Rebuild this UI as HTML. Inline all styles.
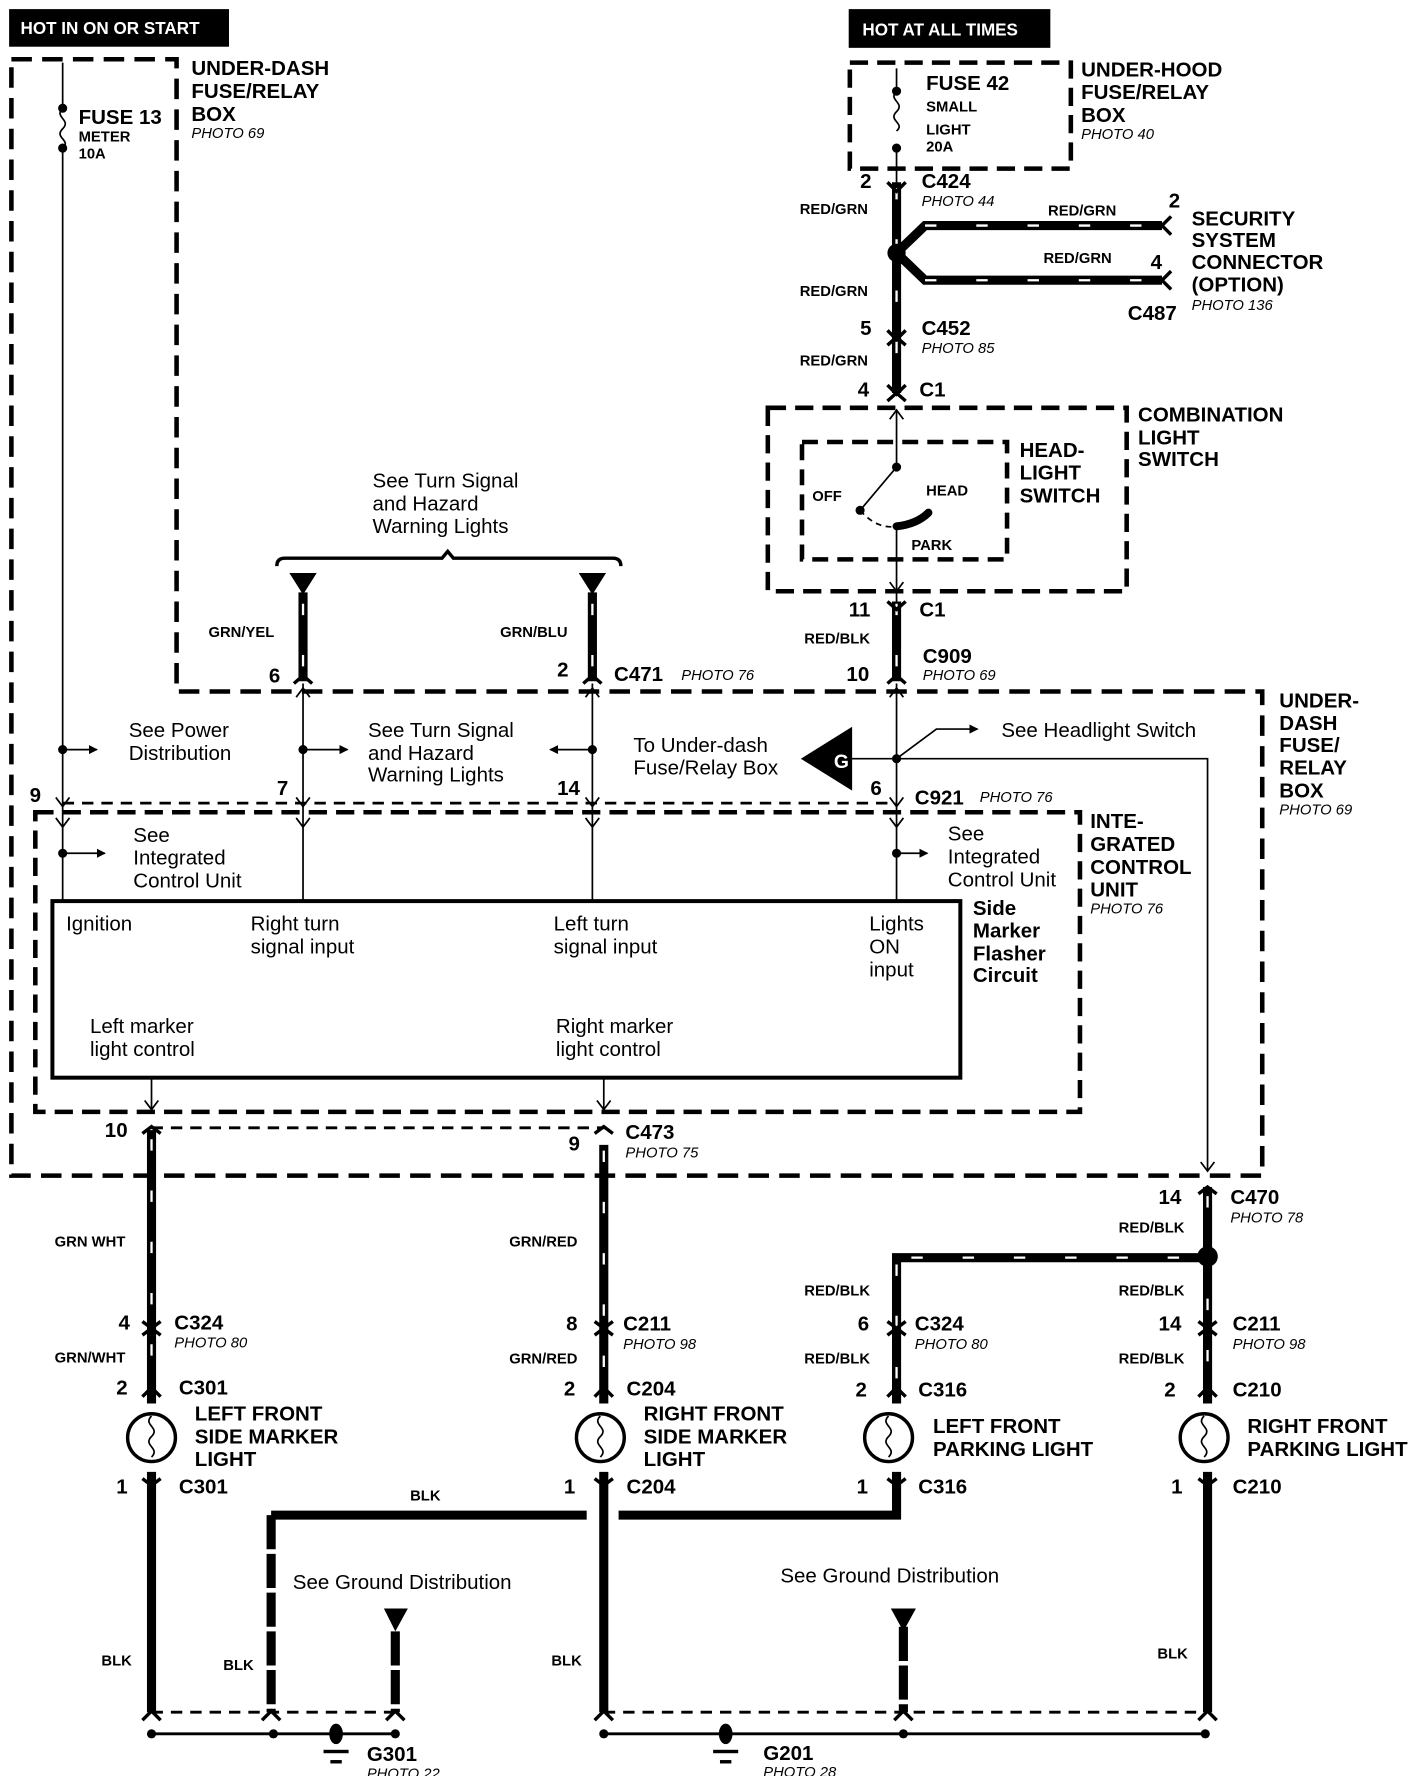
<!DOCTYPE html>
<html><head><meta charset="utf-8"><style>
html,body{margin:0;padding:0;background:#fff}
svg{display:block}
text{font-family:"Liberation Sans",sans-serif;fill:#000}
.b{font-weight:bold;font-size:18px}
.s{font-weight:bold;font-size:13px}
.p{font-style:italic;font-size:13px}
.n{font-size:18px}
.w{fill:#fff;font-weight:bold;font-size:15px}
</style></head><body>
<svg width="1424" height="1776" viewBox="0 0 1250 1559" xmlns="http://www.w3.org/2000/svg">
<defs>
<marker id="ar" markerWidth="8" markerHeight="8" refX="7" refY="4" orient="auto" markerUnits="userSpaceOnUse"><path d="M0,0 L8,4 L0,8 z"/></marker>
</defs>
<g fill="none" stroke="#000">
<!-- big under-dash box -->
<path d="M10,52 H155 V607 H1108 V1032 H10 Z" stroke-width="4" stroke-dasharray="18 9"/>
<!-- under-hood box -->
<rect x="746" y="55" width="194" height="93" stroke-width="4" stroke-dasharray="16 8"/>
<!-- combination switch -->
<rect x="674" y="358" width="315" height="161" stroke-width="4" stroke-dasharray="16 8"/>
<rect x="704" y="388" width="180" height="103" stroke-width="4" stroke-dasharray="14 8"/>
<!-- ICU box -->
<rect x="31" y="713" width="917" height="263" stroke-width="4" stroke-dasharray="16 8"/>
<rect x="46" y="791" width="797" height="155" stroke-width="3.5"/>
<!-- thin dashed connector lines -->
<path d="M55,705 H787" stroke-width="2.5" stroke-dasharray="10 7"/>
<path d="M133,990 H530" stroke-width="2.5" stroke-dasharray="10 7"/>
<path d="M133,1503 H347 M530,1503 H1060" stroke-width="2.5" stroke-dasharray="10 7"/>
<!-- thin wires -->
<path d="M55,55 V95 M55,130 V790" stroke-width="1.5"/>
<path d="M55,95 c-8,8 8,10 0,18 c-8,8 8,10 0,17" stroke-width="1.5"/>
<path d="M266,600 V790 M520,600 V790 M787,600 V790 M787,148 V168" stroke-width="1.5"/>
<path d="M787,60 V80 M787,130 V150" stroke-width="1.5"/>
<path d="M787,80 c-8,8 8,10 0,18 c-8,8 8,10 0,17" stroke-width="1.5"/>
<path d="M787,360 V410 L755,448 M787,462 V528" stroke-width="1.5"/>
<path d="M755,448 Q770,465 787,462" stroke-width="1.5" stroke-dasharray="5 4"/>
<path d="M787,462 Q805,460 815,450" stroke-width="7" stroke-linecap="round"/>
<path d="M743,666 H1060 V1028" stroke-width="1.5"/>
<path d="M787,666 L822,640 H858" stroke-width="1.5" marker-end="url(#ar)"/>
<path d="M133,946 V975 M530,946 V975" stroke-width="1.5"/>
<path d="M55,658 H85" stroke-width="1.5" marker-end="url(#ar)"/>
<path d="M266,658 H305" stroke-width="1.5" marker-end="url(#ar)"/>
<path d="M520,658 H483" stroke-width="1.5" marker-end="url(#ar)"/>
<path d="M55,749 H92" stroke-width="1.5" marker-end="url(#ar)"/>
<path d="M787,749 H814" stroke-width="1.5" marker-end="url(#ar)"/>
<!-- bracket -->
<path d="M243,497 Q243,490 250,490 H388 L393,484 L398,490 H538 Q545,490 545,497" stroke-width="3"/>
<!-- thick wires -->
<g stroke-width="8">
<path d="M266,520 V598 M520,520 V598"/>
<path d="M787,160 V345 M787,222 L812,198 H1020 M787,222 L812,246 H1020"/>
<path d="M787,528 V598"/>
<path d="M133,992 V1232 M133,1292 V1503"/>
<path d="M530,1005 V1232 M530,1292 V1503"/>
<path d="M1060,1042 V1232 M1060,1292 V1503"/>
<path d="M787,1104 H1060 M787,1100 V1232"/>
<path d="M787,1292 V1330 H543 M515,1330 H238"/>
</g>
<path d="M238,1330 V1503 M347,1432 V1503 M793,1428 V1503" stroke-width="8" stroke-dasharray="30 4"/>
<g stroke="#fff" stroke-width="2" stroke-dasharray="10 35">
<path d="M266,530 V598 M520,530 V598 M787,165 V345 M812,198 H1020 M812,246 H1020 M787,530 V598"/>
<path d="M133,1000 V1220 M530,1010 V1220 M1060,1050 V1220 M800,1104 H1050 M787,1110 V1220"/>
</g>
<!-- lamps -->
<g stroke-width="3">
<circle cx="133" cy="1262" r="21"/><circle cx="527" cy="1262" r="21"/><circle cx="780" cy="1262" r="21"/><circle cx="1057" cy="1262" r="21"/>
</g>
<g stroke-width="1.5">
<path d="M133,1243 c-8,8 8,10 0,18 c-8,8 8,10 0,18 M527,1243 c-8,8 8,10 0,18 c-8,8 8,10 0,18 M780,1243 c-8,8 8,10 0,18 c-8,8 8,10 0,18 M1057,1243 c-8,8 8,10 0,18 c-8,8 8,10 0,18"/>
</g>
<!-- ground bus -->
<path d="M133,1522 H347 M530,1522 H1058" stroke-width="2.5"/>
<!-- connector ticks -->
<g stroke-width="3">
<path d="M779,160 L787,168 L795,160 M779,338 L787,346 L795,338 M779,352 L787,345 L795,352"/>
<path d="M779,290 L787,298 L795,290 M779,303 L787,296 L795,303"/>
<path d="M1028,190 L1020,198 L1028,206 M1028,238 L1020,246 L1028,254"/>
<path d="M258,600 L266,593 L274,600 M512,600 L520,593 L528,600 M779,600 L787,593 L795,600 M779,528 L787,535 L795,528"/>
<path d="M125,995 L133,989 L141,995 M522,995 L530,989 L538,995 M1052,1048 L1060,1042 L1068,1048"/>
<path d="M125,1160 L133,1166 L141,1160 M125,1172 L133,1166 L141,1172 M522,1160 L530,1166 L538,1160 M522,1172 L530,1166 L538,1172 M779,1160 L787,1166 L795,1160 M779,1172 L787,1166 L795,1172 M1052,1160 L1060,1166 L1068,1160 M1052,1172 L1060,1166 L1068,1172"/>
<path d="M125,1226 L133,1218 L141,1226 M522,1226 L530,1218 L538,1226 M779,1226 L787,1218 L795,1226 M1052,1226 L1060,1218 L1068,1226"/>
<path d="M125,1298 L133,1304 L141,1298 M522,1298 L530,1304 L538,1298 M779,1298 L787,1304 L795,1298 M1052,1298 L1060,1304 L1068,1298"/>
<path d="M125,1510 L133,1502 L141,1510 M230,1510 L238,1502 L246,1510 M339,1510 L347,1502 L355,1510 M522,1510 L530,1502 L538,1510 M785,1510 L793,1502 L801,1510 M1052,1510 L1060,1502 L1068,1510"/>
</g>
<g stroke-width="1.5">
<path d="M49,718 L55,726 L61,718 M260,718 L266,726 L272,718 M514,718 L520,726 L526,718 M781,718 L787,726 L793,718 M49,700 L55,708 L61,700 M260,700 L266,708 L272,700 M514,700 L520,708 L526,700 M781,700 L787,708 L793,700 M127,966 L133,974 L139,966 M524,966 L530,974 L536,966 M1054,1020 L1060,1028 L1066,1020 M260,612 L266,604 L272,612 M514,612 L520,604 L526,612 M781,612 L787,604 L793,612 M781,368 L787,360 L793,368 M781,511 L787,519 L793,511"/>
</g>
</g>
<!-- filled shapes -->
<g>
<path d="M254,503 H278 L266,522 Z M508,503 H532 L520,522 Z M337,1412 H358 L347,1432 Z M782,1412 H804 L793,1432 Z"/>
<path d="M703,666 L748,638 V694 Z"/>
<circle cx="787" cy="222" r="8"/><circle cx="1060" cy="1103" r="9"/>
<circle cx="55" cy="95" r="4"/><circle cx="55" cy="130" r="4"/><circle cx="787" cy="80" r="4"/><circle cx="787" cy="130" r="4"/>
<circle cx="787" cy="410" r="4"/><circle cx="755" cy="448" r="4"/>
<circle cx="55" cy="658" r="4"/><circle cx="266" cy="658" r="4"/><circle cx="520" cy="658" r="4"/><circle cx="787" cy="666" r="4"/><circle cx="55" cy="749" r="4"/><circle cx="787" cy="749" r="4"/>
<circle cx="133" cy="1522" r="4"/><circle cx="240" cy="1522" r="4"/><circle cx="347" cy="1522" r="4"/><circle cx="530" cy="1522" r="4"/><circle cx="900" cy="1522" r="0"/><circle cx="793" cy="1522" r="4"/><circle cx="1058" cy="1522" r="4"/>
<ellipse cx="295" cy="1522" rx="6" ry="9"/><ellipse cx="637" cy="1522" rx="6" ry="9"/>
<rect x="284" y="1536" width="22" height="3"/><rect x="290" y="1545" width="10" height="3"/>
<rect x="626" y="1536" width="22" height="3"/><rect x="632" y="1545" width="10" height="3"/>
<rect x="8" y="8" width="193" height="33"/><rect x="745" y="8" width="177" height="34"/>
</g>
<text x="732" y="674" class="w" style="font-size:17px">G</text>
<!-- text -->
<text x="18" y="30" class="w">HOT IN ON OR START</text>
<text x="757" y="31" class="w">HOT AT ALL TIMES</text>
<text x="168" y="66" class="b">UNDER-DASH</text><text x="168" y="86" class="b">FUSE/RELAY</text><text x="168" y="106" class="b">BOX</text><text x="168" y="121" class="p">PHOTO 69</text>
<text x="69" y="109" class="b">FUSE 13</text><text x="69" y="124" class="s">METER</text><text x="69" y="139" class="s">10A</text>
<text x="813" y="79" class="b">FUSE 42</text><text x="813" y="98" class="s">SMALL</text><text x="813" y="118" class="s">LIGHT</text><text x="813" y="133" class="s">20A</text>
<text x="949" y="67" class="b">UNDER-HOOD</text><text x="949" y="87" class="b">FUSE/RELAY</text><text x="949" y="107" class="b">BOX</text><text x="949" y="122" class="p">PHOTO 40</text>
<text x="755" y="165" class="b">2</text><text x="809" y="165" class="b">C424</text><text x="809" y="181" class="p">PHOTO 44</text>
<text x="702" y="188" class="s">RED/GRN</text><text x="702" y="260" class="s">RED/GRN</text><text x="702" y="321" class="s">RED/GRN</text>
<text x="920" y="189" class="s">RED/GRN</text><text x="916" y="231" class="s">RED/GRN</text>
<text x="1026" y="182" class="b">2</text><text x="1010" y="236" class="b">4</text>
<text x="1046" y="198" class="b">SECURITY</text><text x="1046" y="217" class="b">SYSTEM</text><text x="1046" y="236" class="b">CONNECTOR</text><text x="1046" y="256" class="b">(OPTION)</text><text x="1046" y="272" class="p">PHOTO 136</text>
<text x="990" y="281" class="b">C487</text>
<text x="755" y="294" class="b">5</text><text x="809" y="294" class="b">C452</text><text x="809" y="310" class="p">PHOTO 85</text>
<text x="753" y="348" class="b">4</text><text x="807" y="348" class="b">C1</text>
<text x="999" y="370" class="b">COMBINATION</text><text x="999" y="390" class="b">LIGHT</text><text x="999" y="409" class="b">SWITCH</text>
<text x="895" y="401" class="b">HEAD-</text><text x="895" y="421" class="b">LIGHT</text><text x="895" y="441" class="b">SWITCH</text>
<text x="713" y="440" class="s">OFF</text><text x="813" y="435" class="s">HEAD</text><text x="800" y="483" class="s">PARK</text>
<text x="745" y="541" class="b">11</text><text x="807" y="541" class="b">C1</text>
<text x="706" y="565" class="s">RED/BLK</text>
<text x="810" y="582" class="b">C909</text><text x="810" y="597" class="p">PHOTO 69</text>
<text x="743" y="598" class="b">10</text>
<text x="327" y="428" class="n">See Turn Signal</text><text x="327" y="448" class="n">and Hazard</text><text x="327" y="468" class="n">Warning Lights</text>
<text x="183" y="559" class="s">GRN/YEL</text><text x="439" y="559" class="s">GRN/BLU</text>
<text x="236" y="599" class="b">6</text><text x="489" y="594" class="b">2</text><text x="539" y="598" class="b">C471</text><text x="598" y="597" class="p">PHOTO 76</text>
<text x="1123" y="621" class="b">UNDER-</text><text x="1123" y="641" class="b">DASH</text><text x="1123" y="660" class="b">FUSE/</text><text x="1123" y="680" class="b">RELAY</text><text x="1123" y="700" class="b">BOX</text><text x="1123" y="715" class="p">PHOTO 69</text>
<text x="113" y="647" class="n">See Power</text><text x="113" y="667" class="n">Distribution</text>
<text x="323" y="647" class="n">See Turn Signal</text><text x="323" y="667" class="n">and Hazard</text><text x="323" y="686" class="n">Warning Lights</text>
<text x="556" y="660" class="n">To Under-dash</text><text x="556" y="680" class="n">Fuse/Relay Box</text>
<text x="879" y="647" class="n">See Headlight Switch</text>
<text x="26" y="704" class="b">9</text><text x="243" y="698" class="b">7</text><text x="489" y="698" class="b">14</text><text x="764" y="698" class="b">6</text>
<text x="803" y="706" class="b">C921</text><text x="860" y="704" class="p">PHOTO 76</text>
<text x="957" y="727" class="b">INTE-</text><text x="957" y="747" class="b">GRATED</text><text x="957" y="767" class="b">CONTROL</text><text x="957" y="787" class="b">UNIT</text><text x="957" y="802" class="p">PHOTO 76</text>
<text x="117" y="739" class="n">See</text><text x="117" y="759" class="n">Integrated</text><text x="117" y="779" class="n">Control Unit</text>
<text x="832" y="738" class="n">See</text><text x="832" y="758" class="n">Integrated</text><text x="832" y="778" class="n">Control Unit</text>
<text x="854" y="803" class="b">Side</text><text x="854" y="823" class="b">Marker</text><text x="854" y="843" class="b">Flasher</text><text x="854" y="862" class="b">Circuit</text>
<text x="58" y="817" class="n">Ignition</text>
<text x="220" y="817" class="n">Right turn</text><text x="220" y="837" class="n">signal input</text>
<text x="486" y="817" class="n">Left  turn</text><text x="486" y="837" class="n">signal input</text>
<text x="763" y="817" class="n">Lights</text><text x="763" y="837" class="n">ON</text><text x="763" y="857" class="n">input</text>
<text x="79" y="907" class="n">Left marker</text><text x="79" y="927" class="n">light control</text>
<text x="488" y="907" class="n">Right marker</text><text x="488" y="927" class="n">light control</text>
<text x="92" y="998" class="b">10</text><text x="499" y="1010" class="b">9</text><text x="549" y="1000" class="b">C473</text><text x="549" y="1016" class="p">PHOTO 75</text>
<text x="1017" y="1057" class="b">14</text><text x="1080" y="1057" class="b">C470</text><text x="1080" y="1073" class="p">PHOTO 78</text>
<text x="982" y="1082" class="s">RED/BLK</text>
<text x="48" y="1094" class="s">GRN WHT</text><text x="447" y="1094" class="s">GRN/RED</text>
<text x="706" y="1137" class="s">RED/BLK</text><text x="982" y="1137" class="s">RED/BLK</text>
<text x="104" y="1167" class="b">4</text><text x="153" y="1167" class="b">C324</text><text x="153" y="1183" class="p">PHOTO 80</text>
<text x="497" y="1168" class="b">8</text><text x="547" y="1168" class="b">C211</text><text x="547" y="1184" class="p">PHOTO 98</text>
<text x="753" y="1168" class="b">6</text><text x="803" y="1168" class="b">C324</text><text x="803" y="1184" class="p">PHOTO 80</text>
<text x="1017" y="1168" class="b">14</text><text x="1082" y="1168" class="b">C211</text><text x="1082" y="1184" class="p">PHOTO 98</text>
<text x="48" y="1196" class="s">GRN/WHT</text><text x="447" y="1197" class="s">GRN/RED</text><text x="706" y="1197" class="s">RED/BLK</text><text x="982" y="1197" class="s">RED/BLK</text>
<text x="102" y="1224" class="b">2</text><text x="157" y="1224" class="b">C301</text>
<text x="495" y="1225" class="b">2</text><text x="550" y="1225" class="b">C204</text>
<text x="751" y="1226" class="b">2</text><text x="806" y="1226" class="b">C316</text>
<text x="1022" y="1226" class="b">2</text><text x="1082" y="1226" class="b">C210</text>
<text x="171" y="1247" class="b">LEFT FRONT</text><text x="171" y="1267" class="b">SIDE MARKER</text><text x="171" y="1287" class="b">LIGHT</text>
<text x="565" y="1247" class="b">RIGHT FRONT</text><text x="565" y="1267" class="b">SIDE MARKER</text><text x="565" y="1287" class="b">LIGHT</text>
<text x="819" y="1258" class="b">LEFT FRONT</text><text x="819" y="1278" class="b">PARKING LIGHT</text>
<text x="1095" y="1258" class="b">RIGHT FRONT</text><text x="1095" y="1278" class="b">PARKING LIGHT</text>
<text x="102" y="1311" class="b">1</text><text x="157" y="1311" class="b">C301</text>
<text x="495" y="1311" class="b">1</text><text x="550" y="1311" class="b">C204</text>
<text x="752" y="1311" class="b">1</text><text x="806" y="1311" class="b">C316</text>
<text x="1028" y="1311" class="b">1</text><text x="1082" y="1311" class="b">C210</text>
<text x="360" y="1317" class="s">BLK</text>
<text x="257" y="1395" class="n">See Ground Distribution</text>
<text x="685" y="1389" class="n">See Ground Distribution</text>
<text x="89" y="1462" class="s">BLK</text><text x="196" y="1466" class="s">BLK</text><text x="484" y="1462" class="s">BLK</text><text x="1016" y="1456" class="s">BLK</text>
<text x="322" y="1546" class="b">G301</text><text x="322" y="1561" class="p">PHOTO 22</text>
<text x="670" y="1545" class="b">G201</text><text x="670" y="1560" class="p">PHOTO 28</text>
</svg>
</body></html>
